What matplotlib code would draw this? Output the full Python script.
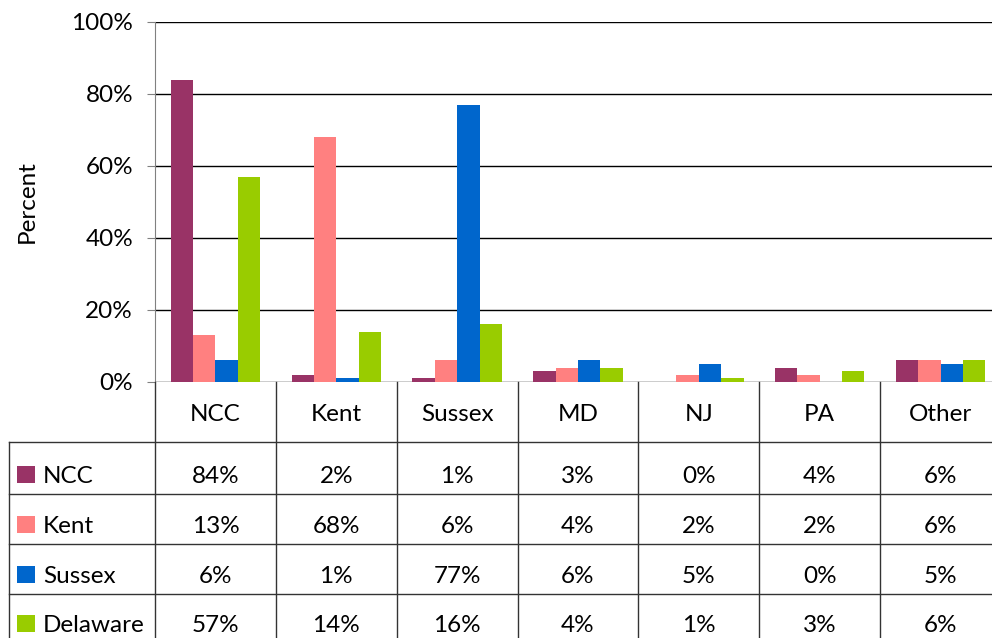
import matplotlib.pyplot as plt
from matplotlib.patches import Rectangle
from matplotlib.lines import Line2D
import matplotlib.transforms as mtrans
import numpy as np

plt.rcParams['font.family'] = ['Lato', 'DejaVu Sans']

categories = ["NCC", "Kent", "Sussex", "MD", "NJ", "PA", "Other"]
series_names = ["NCC", "Kent", "Sussex", "Delaware"]
ncc = [84, 2, 1, 3, 0, 4, 6]
kent = [13, 68, 6, 4, 2, 2, 6]
sussex = [6, 1, 77, 6, 5, 0, 5]
delaware = [57, 14, 16, 4, 1, 3, 6]
series = [ncc, kent, sussex, delaware]
colors = ["#993366", "#FF8080", "#0066CC", "#99CC00"]
yticks = [0, 20, 40, 60, 80, 100]

FS = 17.5
W, H = 992, 638
fig = plt.figure(figsize=(W / 100, H / 100), dpi=100)
# axes runs a little past the right edge, like the original
ax = fig.add_axes([155 / W, 1 - 382 / H, 846 / W, 360 / H])

x = np.arange(len(categories))
bw = 0.185
for i, vals in enumerate(series):
    ax.bar(x + (i - 1.5) * bw, vals, width=bw, color=colors[i], zorder=3)

ax.set_xlim(-0.5, len(categories) - 0.5)
ax.set_ylim(0, 100)
ax.set_yticks(yticks)
ax.set_yticklabels([f"{t}%" for t in yticks], fontsize=FS)
ax.yaxis.grid(True, color="#000000", lw=1, zorder=0)
ax.set_xticks([])
for s in ["top", "right", "bottom"]:
    ax.spines[s].set_visible(False)
ax.spines["left"].set_color("#808080")
ax.tick_params(axis="y", length=6, color="#808080", pad=9.8)

fig.text(27 / W, 1 - 202 / H, "Percent", rotation=90, ha="center", va="center", fontsize=FS)

# data table underneath
def fy(py):
    return 1 - py / H

bt = mtrans.blended_transform_factory(ax.transData, fig.transFigure)
lc = "#333333"
row_lines = [442, 494, 544, 594, 644]
for py in row_lines:
    fig.add_artist(Line2D([9 / W, 1.02], [fy(py), fy(py)], color=lc, lw=1))
fig.add_artist(Line2D([9 / W, 9 / W], [fy(442), fy(650)], color=lc, lw=1))
for k in range(len(categories) + 1):
    fig.add_artist(Line2D([k - 0.5, k - 0.5], [fy(382), fy(650)], transform=bt, color=lc, lw=1))

for j, c in enumerate(categories):
    fig.text(j, fy(421), c, transform=bt, ha="center", va="baseline", fontsize=FS)

baselines = [483, 533, 583, 632]
for i, (name, vals) in enumerate(zip(series_names, series)):
    b = baselines[i]
    fig.add_artist(Rectangle((17 / W, fy(b)), 18 / W, 17.5 / H, transform=fig.transFigure,
                             facecolor=colors[i], edgecolor="none"))
    fig.text(43 / W, fy(b), name, ha="left", va="baseline", fontsize=FS)
    for j, v in enumerate(vals):
        fig.text(j, fy(b), f"{v}%", transform=bt, ha="center", va="baseline", fontsize=FS)

fig.savefig("out.png", dpi=100)
